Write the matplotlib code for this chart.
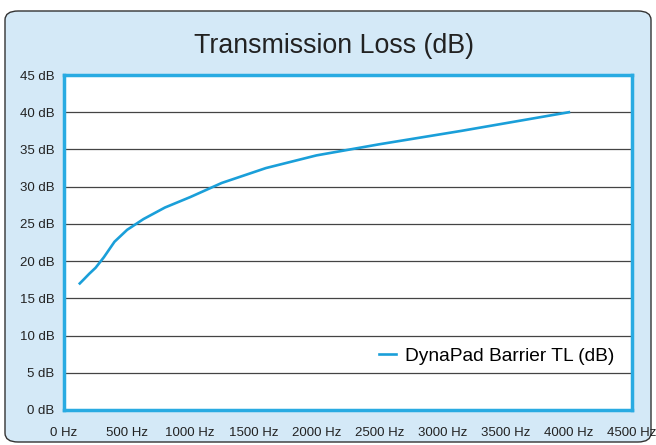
import numpy as np
import matplotlib.pyplot as plt
from matplotlib.patches import FancyBboxPatch
from matplotlib.ticker import MultipleLocator, FuncFormatter

plt.rcParams['font.family'] = ['Liberation Sans', 'DejaVu Sans']

# third-octave bands
freq = [125, 160, 200, 250, 315, 400, 500, 630, 800, 1000, 1250, 1600, 2000, 2500, 3150, 4000]
tl_db = [17.0, 17.6, 18.3, 19.1, 20.5, 22.6, 24.2, 25.65, 27.2, 28.6, 30.5, 32.5, 34.2, 35.7, 37.5, 40.0]

W, H = 656, 445
fig = plt.figure(figsize=(W / 100, H / 100), dpi=100)
fig.patch.set_facecolor('white')

# rounded light-blue panel
panel = FancyBboxPatch((5 / W, 3 / H), 646 / W, 431 / H,
                       boxstyle='round,pad=0,rounding_size=0.02',
                       transform=fig.transFigure, facecolor='#d4e9f7',
                       edgecolor='#333333', linewidth=1.0, zorder=-1)
fig.patches.append(panel)

ax = fig.add_axes([64 / W, 35 / H, 568 / W, 335 / H])
ax.set_facecolor('white')
ax.plot(freq, tl_db, color='#1a9fd9', lw=1.9, label='DynaPad Barrier TL (dB)', zorder=3)

ax.set_xlim(0, 4500)
ax.set_ylim(0, 45)
ax.xaxis.set_major_locator(MultipleLocator(500))
ax.yaxis.set_major_locator(MultipleLocator(5))
ax.xaxis.set_major_formatter(FuncFormatter(lambda v, p: f'{int(v)} Hz'))
ax.yaxis.set_major_formatter(FuncFormatter(lambda v, p: f'{int(v)} dB'))
ax.tick_params(length=0, labelsize=9.5, colors='#222222')
ax.tick_params(axis='x', pad=12)
ax.tick_params(axis='y', pad=7)
ax.grid(axis='y', color='#444444', lw=0.9)
ax.set_axisbelow(True)
for s in ax.spines.values():
    s.set_color('#29abe2')
    s.set_linewidth(2.5)

fig.text(334 / W, 1 - 46 / H, 'Transmission Loss (dB)', ha='center', va='center',
         fontsize=19.3, color='#222222')

ax.legend(loc='lower right', bbox_to_anchor=(1.0, 0.083), frameon=False,
          fontsize=13.8, handlelength=0.9, handletextpad=0.5)

fig.savefig('out.png', dpi=100, facecolor=fig.get_facecolor())
